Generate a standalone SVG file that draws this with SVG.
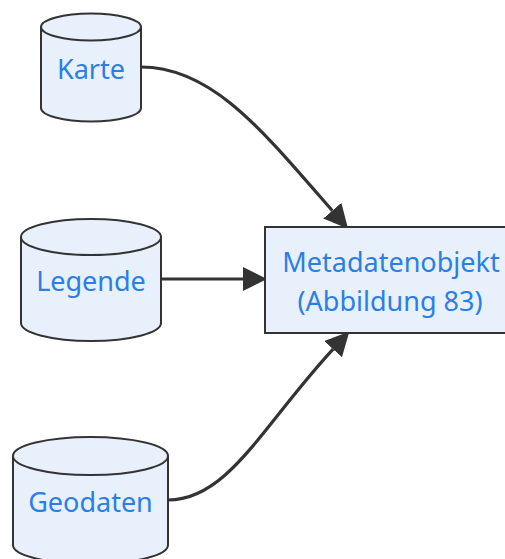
<svg xmlns="http://www.w3.org/2000/svg" width="505" height="559" viewBox="0 0 505 559">
<style>
.node path, .node rect { fill: #e8f0fc; stroke: #333333; stroke-width: 2; }
.node text { font-family: "Noto Sans", "Open Sans", sans-serif; font-size: 27px; fill: #2a7fe6; text-anchor: middle; }
.edge { fill: none; stroke: #333333; stroke-width: 3.2; }
</style>
<defs>
<marker id="arrow" markerUnits="userSpaceOnUse" markerWidth="24" markerHeight="24" refX="0" refY="11" orient="auto" viewBox="0 0 22 22">
<path d="M0,0 L22,11 L0,22 z" fill="#333333"/>
</marker>
</defs>
<g id="edges">
<path class="edge" d="M141,67 C212,67 262,130 332.3,210.7" marker-end="url(#arrow)"/>
<path class="edge" d="M161,279 L243,279" marker-end="url(#arrow)"/>
<path class="edge" d="M168,500 C228,500 263,425 333.1,349.2" marker-end="url(#arrow)"/>
</g>
<g id="karte" class="node">
<path d="M41,27 a50,13.5 0 0,0 100,0 a50,13.5 0 0,0 -100,0 l0,81 a50,13.5 0 0,0 100,0 l0,-81"/>
<text x="91" y="79">Karte</text>
</g>
<g id="legende" class="node">
<path d="M21,237 a70,18 0 0,0 140,0 a70,18 0 0,0 -140,0 l0,86 a70,18 0 0,0 140,0 l0,-86"/>
<text x="91" y="291">Legende</text>
</g>
<g id="geodaten" class="node">
<path d="M13,456 a77.5,19 0 0,0 155,0 a77.5,19 0 0,0 -155,0 l0,89 a77.5,19 0 0,0 155,0 l0,-89"/>
<text x="90.5" y="512">Geodaten</text>
</g>
<g id="metadatenobjekt" class="node">
<rect x="265" y="227" width="260" height="106"/>
<text x="391" y="272">Metadatenobjekt</text>
<text x="390" y="311">(Abbildung 83)</text>
</g>
</svg>
